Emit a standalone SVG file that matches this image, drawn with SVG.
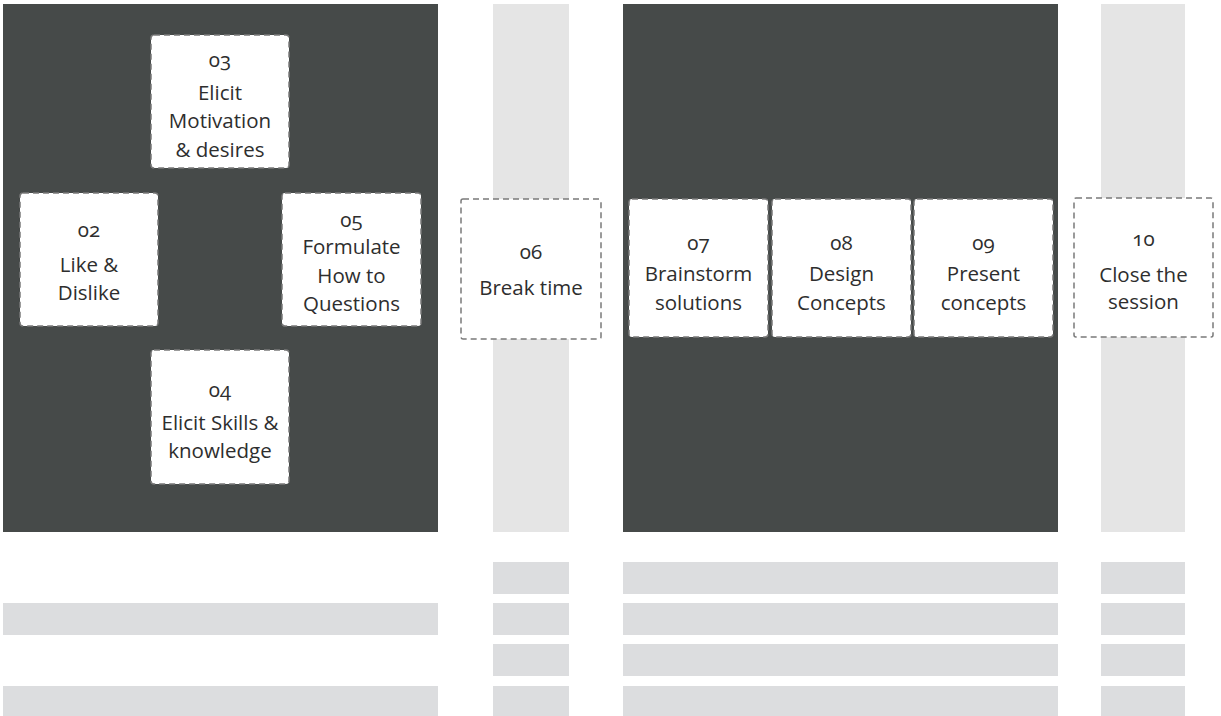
<svg xmlns="http://www.w3.org/2000/svg" width="1221" height="716" viewBox="0 0 1221 716">
<style>
.bg{fill:#ffffff}
.dark{fill:#464a49}
.vbar{fill:#e5e5e5}
.row{fill:#dcdddf}
.box{fill:#ffffff;stroke:#7a7a7a;stroke-width:1.5;stroke-dasharray:6 4}
text{font-family:"Open Sans","Liberation Sans",sans-serif;font-size:20.5px;fill:#2e2e2e;text-anchor:middle;font-variant-numeric:oldstyle-nums}
</style>
<rect class="bg" x="0" y="0" width="1221" height="716"/>
<g id="background">
<rect class="dark" x="3" y="4" width="435" height="528"/>
<rect class="vbar" x="493" y="4" width="76" height="528"/>
<rect class="dark" x="623" y="4" width="435" height="528"/>
<rect class="vbar" x="1101" y="4" width="84" height="528"/>
<rect class="row" x="493" y="562" width="76" height="32"/>
<rect class="row" x="623" y="562" width="435" height="32"/>
<rect class="row" x="1101" y="562" width="84" height="32"/>
<rect class="row" x="3" y="603" width="435" height="32"/>
<rect class="row" x="493" y="603" width="76" height="32"/>
<rect class="row" x="623" y="603" width="435" height="32"/>
<rect class="row" x="1101" y="603" width="84" height="32"/>
<rect class="row" x="493" y="644" width="76" height="32"/>
<rect class="row" x="623" y="644" width="435" height="32"/>
<rect class="row" x="1101" y="644" width="84" height="32"/>
<rect class="row" x="3" y="686" width="435" height="30"/>
<rect class="row" x="493" y="686" width="76" height="30"/>
<rect class="row" x="623" y="686" width="435" height="30"/>
<rect class="row" x="1101" y="686" width="84" height="30"/>
</g>
<g id="connectors"/>
<g id="node-03">
<rect class="box" x="151" y="35" width="138" height="133" rx="3"/>
<text x="220" y="67">03</text>
<text x="220" y="100">Elicit</text>
<text x="220" y="128">Motivation</text>
<text x="220" y="157">&amp; desires</text>
</g>
<g id="node-02">
<rect class="box" x="20" y="193" width="138" height="133" rx="3"/>
<text x="89" y="237">02</text>
<text x="89" y="272">Like &amp;</text>
<text x="89" y="300">Dislike</text>
</g>
<g id="node-05">
<rect class="box" x="282" y="193" width="139" height="133" rx="3"/>
<text x="351.5" y="227">05</text>
<text x="351.5" y="254">Formulate</text>
<text x="351.5" y="283">How to</text>
<text x="351.5" y="311">Questions</text>
</g>
<g id="node-04">
<rect class="box" x="151" y="350" width="138" height="134" rx="3"/>
<text x="220" y="397">04</text>
<text x="220" y="430">Elicit Skills &amp;</text>
<text x="220" y="458">knowledge</text>
</g>
<g id="node-06">
<rect class="box" x="461" y="199" width="140" height="140" rx="2"/>
<text x="531" y="259">06</text>
<text x="531" y="295">Break time</text>
</g>
<g id="node-07">
<rect class="box" x="629" y="199" width="139" height="138" rx="3"/>
<text x="698.5" y="250">07</text>
<text x="698.5" y="281">Brainstorm</text>
<text x="698.5" y="310">solutions</text>
</g>
<g id="node-08">
<rect class="box" x="772" y="199" width="139" height="138" rx="3"/>
<text x="841.5" y="250">08</text>
<text x="841.5" y="281">Design</text>
<text x="841.5" y="310">Concepts</text>
</g>
<g id="node-09">
<rect class="box" x="914" y="199" width="139" height="138" rx="3"/>
<text x="983.5" y="250">09</text>
<text x="983.5" y="281">Present</text>
<text x="983.5" y="310">concepts</text>
</g>
<g id="node-10">
<rect class="box" x="1074" y="198" width="139" height="139" rx="2"/>
<text x="1143.5" y="246">10</text>
<text x="1143.5" y="282">Close the</text>
<text x="1143.5" y="309">session</text>
</g>
</svg>
